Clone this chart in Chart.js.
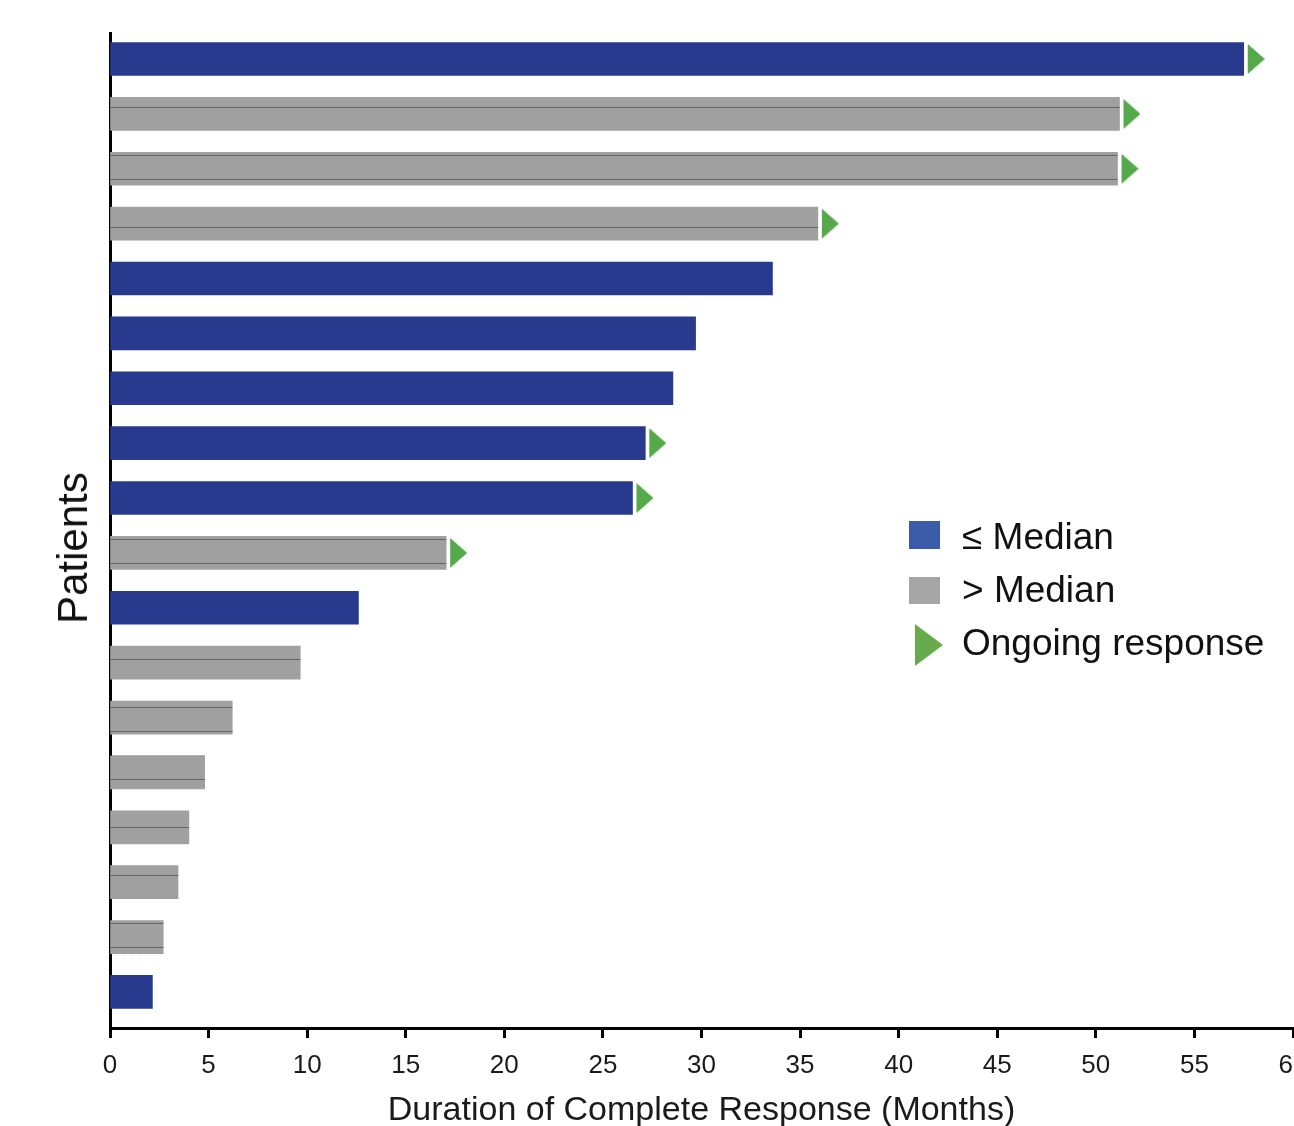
<!DOCTYPE html>
<html>
<head>
<meta charset="utf-8">
<title>Duration of Complete Response</title>
<script src="https://cdn.jsdelivr.net/npm/chart.js@4.4.1/dist/chart.umd.min.js"></script>
<style>
    body { margin: 0; background: #fff; font-family: "Liberation Sans", Arial, sans-serif; color: #111; }
    #wrap { position: relative; width: 1294px; height: 1126px; overflow: hidden; }
    #chart { position: absolute; left: 0; top: 0; }
    .ylabel {
        position: absolute; left: 73px; top: 548px;
        transform: translate(-50%, -50%) rotate(-90deg);
        font-size: 42px; line-height: 42px; white-space: nowrap;
    }
    .swatch { position: absolute; left: 909px; width: 31px; height: 28px; }
    .tri {
        position: absolute; left: 915px; top: 624px; width: 0; height: 0;
        border-left: 28px solid #68aa4e; border-top: 21px solid transparent; border-bottom: 21px solid transparent;
    }
    .ltext { position: absolute; left: 962px; font-size: 37px; line-height: 37px; white-space: nowrap; }
</style>
</head>
<body>
<div id="wrap">
    <canvas id="chart" width="1320" height="1140"></canvas>
    <div class="ylabel">Patients</div>
    <div class="swatch" style="top:521px; background:#3b5ba8;"></div>
    <div class="ltext" style="top:518px;">≤ Median</div>
    <div class="swatch" style="top:577px; height:27px; background:#a6a6a6;"></div>
    <div class="ltext" style="top:571px;">&gt; Median</div>
    <div class="tri"></div>
    <div class="ltext" style="top:624px;">Ongoing response</div>
</div>

<script>
// one row per patient, longest response first
const durations = [57.5, 51.2, 51.1, 35.9, 33.6, 29.7, 28.55, 27.15, 26.5, 17.05, 12.6, 9.65, 6.2, 4.8, 4.0, 3.45, 2.7, 2.15];
const belowMedian = [true, false, false, false, true, true, true, true, true, false, true, false, false, false, false, false, false, true];
const ongoing = [true, true, true, true, false, false, false, true, true, true, false, false, false, false, false, false, false, false];
const xMin = 0, xMax = 60, xStep = 5;

const BLUE = '#283a8e';
const GREEN = '#56a94b';
const FONT = '"Liberation Sans", Arial, sans-serif';

// dithered grey fill with faint hatch lines for the > median bars
function greyPattern() {
    const c = document.createElement('canvas');
    c.width = 2; c.height = 24;
    const g = c.getContext('2d');
    for (let y = 0; y < 24; y++) {
        g.fillStyle = '#a8a8a8'; g.fillRect(0, y, 2, 1);
        g.fillStyle = '#989898'; g.fillRect(y % 2, y, 1, 1);
    }
    g.fillStyle = '#666'; g.fillRect(0, 11, 2, 1);
    return document.getElementById('chart').getContext('2d').createPattern(c, 'repeat');
}

// green arrowhead, drawn to the right of its centre so it sits just past the bar end
function arrowHead() {
    const c = document.createElement('canvas');
    c.width = 42; c.height = 32;
    const g = c.getContext('2d');
    g.fillStyle = GREEN;
    g.beginPath();
    g.moveTo(25, 1);
    g.lineTo(42, 16);
    g.lineTo(25, 31);
    g.closePath();
    g.fill();
    return c;
}

const grey = greyPattern();
const barData = durations.map((d, i) => ({ x: d, y: i }));
const arrowData = durations.map((d, i) => ({ x: d, y: i })).filter((p, i) => ongoing[i]);

new Chart(document.getElementById('chart'), {
    type: 'bar',
    data: {
        datasets: [
            {
                type: 'scatter',
                data: arrowData,
                pointStyle: arrowHead(),
                pointRadius: 10,
                order: 1
            },
            {
                type: 'bar',
                data: barData,
                backgroundColor: ctx => belowMedian[ctx.dataIndex] ? BLUE : grey,
                borderWidth: 0,
                barThickness: 33,
                order: 2
            }
        ]
    },
    options: {
        indexAxis: 'y',
        responsive: false,
        animation: false,
        layout: { padding: { top: 33, right: 27, left: 0, bottom: 0 } },
        plugins: { legend: { display: false }, tooltip: { enabled: false } },
        scales: {
            x: {
                type: 'linear',
                z: 1,
                min: xMin,
                max: xMax,
                ticks: { stepSize: xStep, color: '#1a1a1a', padding: 12, font: { family: FONT, size: 26 } },
                grid: { display: true, drawOnChartArea: false, drawTicks: true, tickLength: 10, tickWidth: 3, tickColor: '#000' },
                border: { display: true, color: '#000', width: 3 },
                title: {
                    display: true,
                    text: 'Duration of Complete Response (Months)',
                    color: '#1a1a1a',
                    font: { family: FONT, size: 34 },
                    padding: { top: 0, bottom: 9 }
                },
                afterFit: s => { s.height = 112; }
            },
            y: {
                type: 'linear',
                z: 1,
                reverse: true,
                offset: false,
                min: -0.4737,
                max: 17.657,
                ticks: { display: false },
                grid: { display: false },
                border: { display: true, color: '#000', width: 3 },
                afterFit: s => { s.width = 110; }
            }
        }
    }
});
</script>
</body>
</html>
